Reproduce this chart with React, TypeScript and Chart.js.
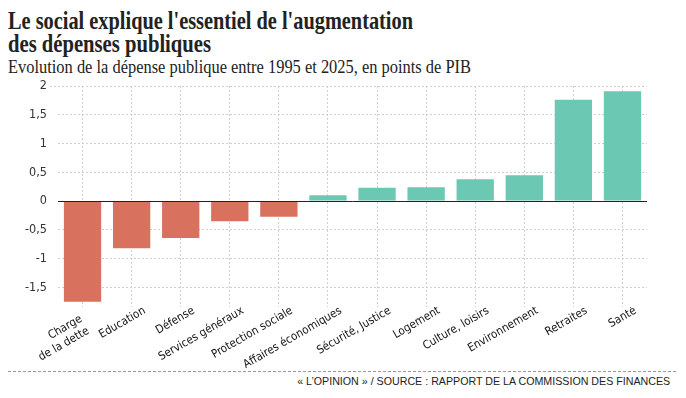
import React, { useEffect, useLayoutEffect, useRef } from 'react';
import { Chart, registerables } from 'chart.js';

Chart.register(...registerables);

const NB = '\u00A0\u00A0\u00A0\u00A0\u00A0';
const categories: (string | string[])[] = [
  ['Charge' + NB, 'de la dette' + NB],
  'Education',
  'Défense',
  'Services généraux',
  'Protection sociale',
  'Affaires économiques',
  'Sécurité, Justice',
  'Logement',
  'Culture, loisirs',
  'Environnement',
  'Retraites',
  'Santé',
];
const values = [-1.75, -0.82, -0.64, -0.35, -0.27, 0.1, 0.23, 0.24, 0.38, 0.45, 1.76, 1.91];
const yTicks = [-1.5, -1, -0.5, 0, 0.5, 1, 1.5, 2];

const NEG = '#D8725E';
const POS = '#6BC8B2';

const title1 = "Le social explique l'essentiel de l'augmentation";
const title2 = 'des dépenses publiques';
const subtitle = 'Evolution de la dépense publique entre 1995 et 2025, en points de PIB';
const source = '« L\u2019OPINION » / SOURCE : RAPPORT DE LA COMMISSION DES FINANCES';

function FitText(props: { text: string; width: number; style: React.CSSProperties; origin?: string }) {
  const ref = useRef<HTMLSpanElement>(null);
  useLayoutEffect(() => {
    const el = ref.current;
    if (!el) return;
    el.style.transform = 'none';
    const w = el.getBoundingClientRect().width;
    if (w > 0) el.style.transform = `scaleX(${props.width / w})`;
  }, [props.text, props.width]);
  return (
    <span
      ref={ref}
      style={{
        position: 'absolute',
        whiteSpace: 'nowrap',
        display: 'inline-block',
        transformOrigin: props.origin || 'left top',
        ...props.style,
      }}
    >
      {props.text}
    </span>
  );
}

const zeroLine = {
  id: 'zeroLine',
  afterDatasetsDraw(chart: any) {
    const { ctx, chartArea, scales } = chart;
    const py = Math.round(scales.y.getPixelForValue(0)) + 0.5;
    ctx.save();
    ctx.strokeStyle = '#222';
    ctx.lineWidth = 1;
    ctx.beginPath();
    ctx.moveTo(chartArea.left, py);
    ctx.lineTo(chartArea.right, py);
    ctx.stroke();
    ctx.restore();
  },
};

export default function App() {
  const canvasRef = useRef<HTMLCanvasElement>(null);

  useEffect(() => {
    document.body.style.margin = '0';
    const canvas = canvasRef.current;
    if (!canvas) return;
    const tickFont = "'DejaVu Sans Condensed', 'Liberation Sans Narrow', 'Liberation Sans', Arial, sans-serif";
    const topTick = yTicks[yTicks.length - 1];
    const chart = new Chart(canvas, {
      type: 'bar',
      data: {
        labels: categories,
        datasets: [
          {
            data: values,
            backgroundColor: values.map((v) => (v < 0 ? NEG : POS)),
            borderWidth: 0,
            categoryPercentage: 1,
            barPercentage: 0.76,
          },
        ],
      },
      options: {
        animation: false,
        responsive: false,
        maintainAspectRatio: false,
        layout: { padding: { top: 19, right: 39, left: 0, bottom: 0 } },
        plugins: {
          legend: { display: false },
          tooltip: { enabled: false },
        },
        scales: {
          x: {
            offset: true,
            grid: {
              offset: false,
              drawTicks: false,
              color: '#cfcfcf',
              lineWidth: 1,
            },
            border: { display: false, dash: [2, 2] },
            ticks: {
              autoSkip: false,
              minRotation: 30,
              maxRotation: 30,
              padding: -3,
              labelOffset: 13,
              color: '#111',
              font: { family: tickFont, size: 11.5 },
            },
            afterFit(scale: any) {
              scale.height = 64;
            },
          },
          y: {
            min: -1.84,
            max: 2,
            grid: {
              drawTicks: true,
              tickLength: 8,
              tickBorderDash: [2, 2],
              tickColor: (ctx: any) => (ctx.tick && ctx.tick.value === topTick ? '#cfcfcf' : 'rgba(0,0,0,0)'),
              color: (ctx: any) => (ctx.tick && ctx.tick.value === 0 ? 'rgba(0,0,0,0)' : '#cfcfcf'),
              lineWidth: 1,
            },
            border: { display: false, dash: [2, 2] },
            ticks: {
              stepSize: 0.5,
              padding: 3,
              color: '#333',
              font: { family: tickFont, size: 12.5 },
              callback: (v: any) => String(v).replace('.', ','),
            },
            afterBuildTicks(scale: any) {
              scale.ticks = yTicks.map((v) => ({ value: v }));
            },
            afterFit(scale: any) {
              scale.width = 58;
            },
          },
        },
      },
      plugins: [zeroLine],
    });
    return () => chart.destroy();
  }, []);

  const serif = "'Liberation Serif', 'DejaVu Serif', serif";
  const sans = "'Liberation Sans Narrow', 'Liberation Sans', Arial, sans-serif";

  return (
    <div style={{ position: 'fixed', left: 0, top: 0, width: 686, height: 398, background: '#fff', overflow: 'hidden' }}>
      <FitText
        text={title1}
        width={405}
        style={{ left: 8, top: 8, fontFamily: serif, fontWeight: 'bold', fontSize: 25, lineHeight: '25px', color: '#222' }}
      />
      <FitText
        text={title2}
        width={203}
        style={{ left: 8, top: 31, fontFamily: serif, fontWeight: 'bold', fontSize: 25, lineHeight: '25px', color: '#222' }}
      />
      <FitText
        text={subtitle}
        width={463}
        style={{ left: 8, top: 57.5, fontFamily: serif, fontSize: 18, lineHeight: '18px', color: '#222' }}
      />
      <canvas
        ref={canvasRef}
        width={686}
        height={304}
        style={{ position: 'absolute', left: 0, top: 67, width: 686, height: 304 }}
      />
      <div
        style={{
          position: 'absolute',
          left: 8,
          top: 371,
          width: 668,
          height: 0,
          borderTop: '1px dashed #9a9a9a',
        }}
      />
      <FitText
        text={source}
        width={373}
        origin="right top"
        style={{ right: 16, top: 376, fontFamily: sans, fontSize: 11.5, lineHeight: '11.5px', color: '#222' }}
      />
    </div>
  );
}
